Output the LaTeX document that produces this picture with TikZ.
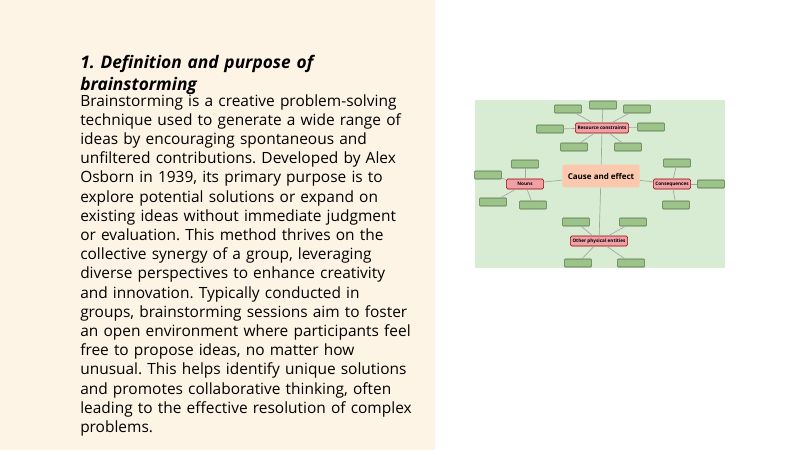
\documentclass[tikz,border=0pt]{standalone}
\usepackage{fontspec}
\setmainfont{Open Sans}
\frenchspacing
\usetikzlibrary{positioning}
\definecolor{panel}{HTML}{FDF4E6}
\definecolor{mapbg}{HTML}{D8EBD3}
\definecolor{leafgreen}{HTML}{9CC48A}
\definecolor{leafline}{HTML}{4E6B3E}
\definecolor{hubred}{HTML}{F0A0A6}
\definecolor{coreorange}{HTML}{FCC8AE}
\begin{document}
\begin{tikzpicture}[
            x=0.75pt, y=-0.75pt,
            hub/.style={rectangle, draw=red!60!black, fill=hubred, rounded corners=1pt, minimum height=7.5pt, inner sep=1pt, font=\fontsize{3.5}{4}\selectfont\bfseries},
            leaf/.style={rectangle, draw=leafline, fill=leafgreen, rounded corners=0.5pt, minimum width=20pt, minimum height=6pt, inner sep=0pt},
            link/.style={draw=gray!70, line width=0.5pt}
        ]
            \useasboundingbox (0,0) rectangle (800,450);
            \fill[white] (0,0) rectangle (800,450);
            \fill[panel] (0,0) rectangle (435,450);
            % heading and body
            \node[anchor=north west, inner sep=0pt, text width=260pt, font=\fontsize{13}{16.5}\selectfont\bfseries\itshape] (title) at (80,55) {1. Definition and purpose of\\brainstorming};
            \node[anchor=north west, inner sep=0pt, text width=270pt, font=\fontsize{11.6}{14.4}\selectfont] (body) at (80,94) {Brainstorming is a creative problem-solving\\technique used to generate a wide range of\\ideas by encouraging spontaneous and\\unfiltered contributions. Developed by Alex\\Osborn in 1939, its primary purpose is to\\explore potential solutions or expand on\\existing ideas without immediate judgment\\or evaluation. This method thrives on the\\collective synergy of a group, leveraging\\diverse perspectives to enhance creativity\\and innovation. Typically conducted in\\groups, brainstorming sessions aim to foster\\an open environment where participants feel\\free to propose ideas, no matter how\\unusual. This helps identify unique solutions\\and promotes collaborative thinking, often\\leading to the effective resolution of complex\\problems.};
            % mind map
            \fill[mapbg] (475,100) rectangle (725,268);
            \node[rectangle, fill=coreorange, rounded corners=1.5pt, minimum width=58pt, minimum height=17pt, font=\fontsize{6}{7}\selectfont\bfseries] (core) at (601,176) {Cause and effect};
            \node[hub, minimum width=40pt] (res) at (602,128) {Resource constraints};
            \node[hub, minimum width=28pt] (nouns) at (525,184) {Nouns};
            \node[hub, minimum width=28pt] (cons) at (672,184) {Consequences};
            \node[hub, minimum width=43pt] (other) at (599,241) {Other physical entities};
            \foreach \name/\px/\py in {r1/568/109, r2/603/105, r3/637/109, r4/550/129, r5/651/127, r6/574/147, r7/628/147,
                n1/525/164, n2/488/175, n3/493/202, n4/533/205,
                c1/677/163, c2/711/184, c3/676/205,
                o1/576/222, o2/633/222, o3/578/263, o4/631/263}
                \node[leaf] (\name) at (\px,\py) {};
            \draw[link] (core) -- (res);
            \draw[link] (core) -- (nouns);
            \draw[link] (core) -- (cons);
            \draw[link] (core) -- (other);
            \foreach \name in {r1,r2,r3,r4,r5,r6,r7} \draw[link] (res) -- (\name);
            \foreach \name in {n1,n2,n3,n4} \draw[link] (nouns) -- (\name);
            \foreach \name in {c1,c2,c3} \draw[link] (cons) -- (\name);
            \foreach \name in {o1,o2,o3,o4} \draw[link] (other) -- (\name);
        \end{tikzpicture}
\end{document}
